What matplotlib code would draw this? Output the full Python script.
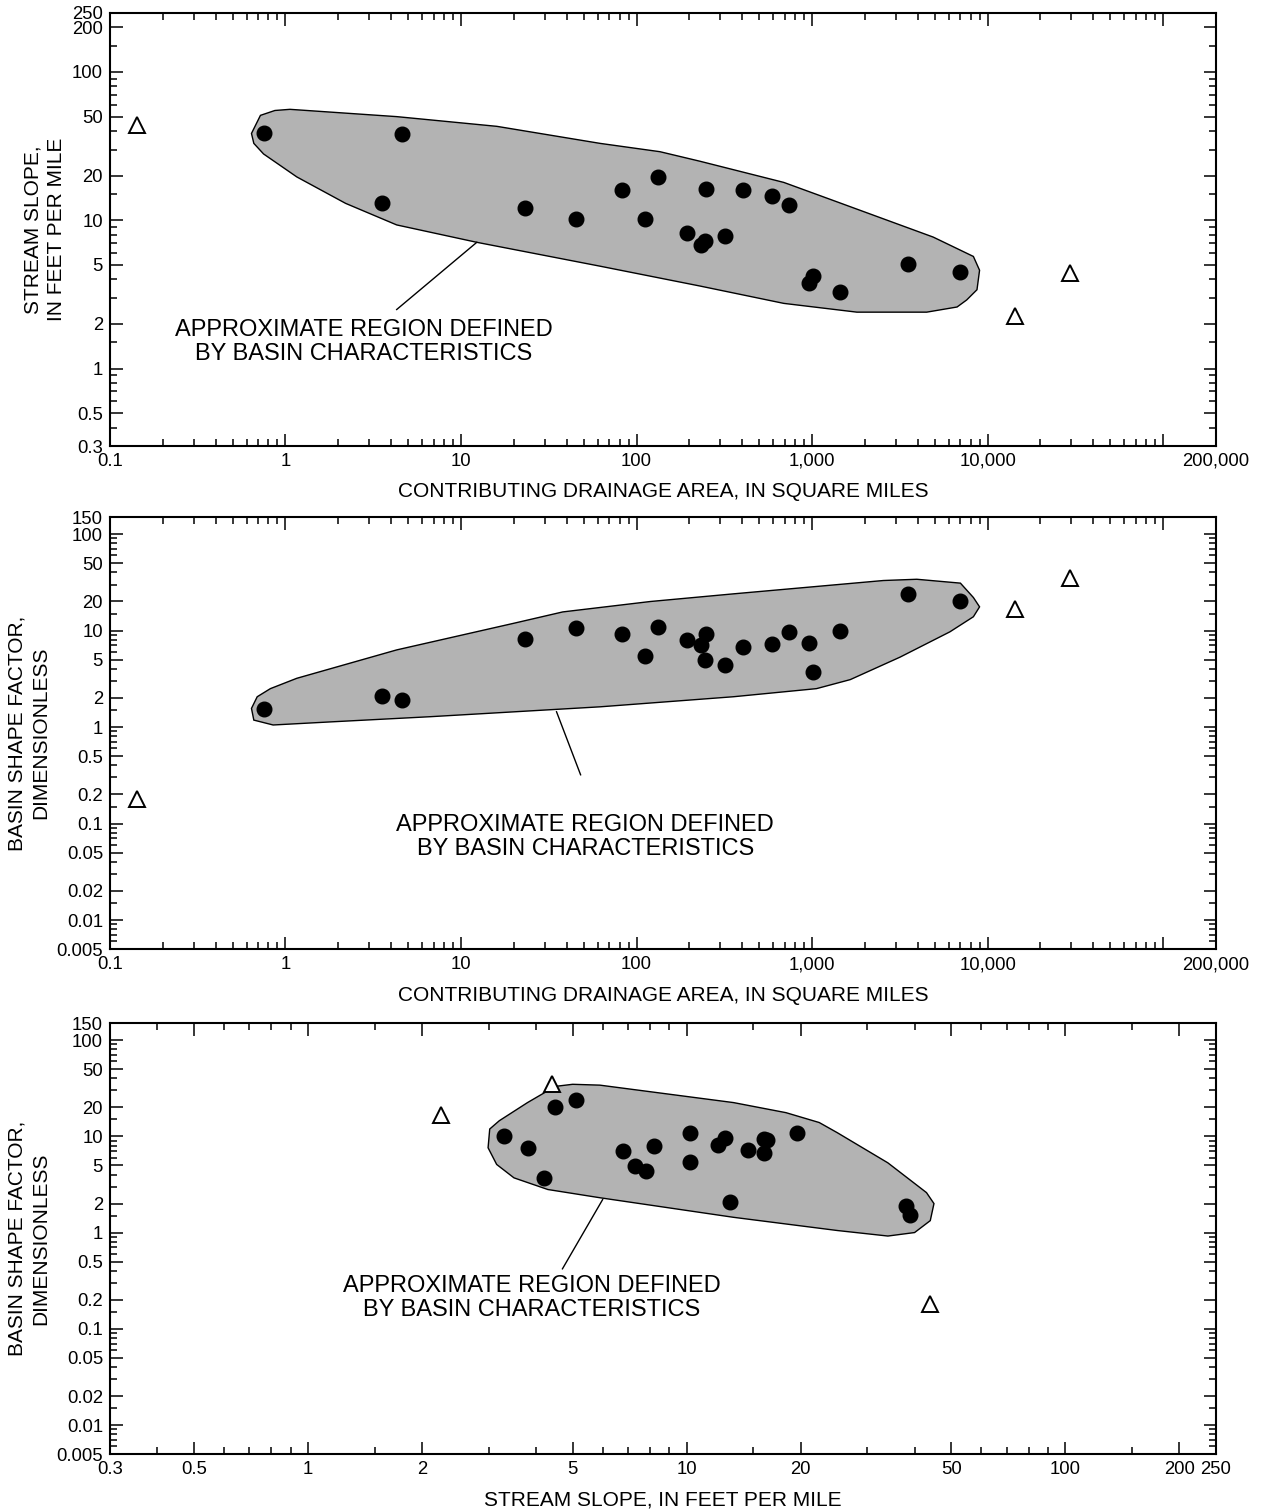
import matplotlib
matplotlib.use('Agg')
import matplotlib.pyplot as plt
from matplotlib.ticker import FixedLocator, FixedFormatter, NullFormatter

plt.rcParams['font.family'] = ['Liberation Sans', 'DejaVu Sans']

# gaged sites inside the region of basin characteristics
area = [0.757, 3.55, 4.63, 23, 45, 83, 112, 133, 195, 248, 232, 245, 321,
        403, 594, 736, 960, 1015, 1450, 3520, 7000]
slope = [39, 13.0, 38, 12.1, 10.2, 16.0, 10.2, 19.6, 8.2, 16.3, 6.8, 7.3, 7.8,
         16.0, 14.5, 12.6, 3.8, 4.2, 3.3, 5.1, 4.5]
shape = [1.53, 2.1, 1.9, 8.2, 10.7, 9.3, 5.4, 10.8, 8.0, 9.1, 7.0, 4.9, 4.4,
         6.7, 7.2, 9.6, 7.5, 3.7, 10.0, 24, 20]

# sites outside the region
out_area = [0.142, 14350, 29500]
out_slope = [44, 2.25, 4.4]
out_shape = [0.18, 16.7, 35]

# approximate region outlines
reg1_x = [0.64, 0.72, 0.87, 1.06, 4.3, 16, 62, 136, 230, 690, 1320, 4900, 8300,
          9000, 8700, 7600, 6700, 4500, 1800, 690, 230, 62, 12.3, 4.3, 2.2,
          1.16, 0.75, 0.66]
reg1_y = [38.5, 51, 55, 56, 50, 43, 33, 29, 25, 18, 13.6, 7.7, 5.7,
          4.6, 3.4, 2.9, 2.6, 2.4, 2.4, 2.75, 3.6, 4.9, 7.1, 9.3, 13,
          19.6, 28, 33]
reg2_x = [0.64, 0.69, 0.82, 1.16, 4.3, 20, 38, 120, 356, 2550, 3950, 7000,
          8300, 9000, 8300, 6100, 3170, 1650, 1060, 356, 62, 6.7, 1.8, 0.85,
          0.66]
reg2_y = [1.56, 2.06, 2.5, 3.2, 6.3, 11.9, 15.6, 20, 24, 33, 34, 31,
          22, 17.6, 13.9, 9.7, 5.3, 3.1, 2.5, 2.06, 1.62, 1.28, 1.13, 1.05,
          1.18]
reg3_x = [3.02, 2.99, 3.15, 3.5, 4.3, 5.9, 13.3, 25, 34, 40, 44, 45, 43, 34,
          25, 22.4, 18.3, 13.3, 5.9, 5.0, 4.5, 3.8, 3.2]
reg3_y = [11.9, 7.6, 5.1, 3.7, 2.8, 2.3, 1.44, 1.05, 0.92, 1.0, 1.33, 2.0,
          2.6, 5.3, 10.9, 13.9, 17.6, 22.4, 34, 34.7, 33, 22.4, 14.5]

area_ticks = [0.1, 1, 10, 100, 1000, 10000, 100000, 200000]
area_labels = ['0.1', '1', '10', '100', '1,000', '10,000', '', '200,000']
slope_ticks = [0.3, 0.5, 1, 2, 5, 10, 20, 50, 100, 200, 250]
slope_labels = ['0.3', '0.5', '1', '2', '5', '10', '20', '50', '100', '200', '250']
shape_ticks = [0.005, 0.01, 0.02, 0.05, 0.1, 0.2, 0.5, 1, 2, 5, 10, 20, 50, 100, 150]
shape_labels = ['0.005', '0.01', '0.02', '0.05', '0.1', '0.2', '0.5', '1', '2', '5',
                '10', '20', '50', '100', '150']

note = 'APPROXIMATE REGION DEFINED\nBY BASIN CHARACTERISTICS'
area_label = 'CONTRIBUTING DRAINAGE AREA, IN SQUARE MILES'
slope_label = 'STREAM SLOPE, IN FEET PER MILE'


def minors(lo, hi, mults):
    out = []
    for e in range(-4, 6):
        for m in mults:
            v = m * 10.0 ** e
            if lo < v < hi:
                out.append(v)
    return out


def set_axis(axis, lo, hi, ticks, labels, mults):
    axis.set_major_locator(FixedLocator(ticks))
    axis.set_major_formatter(FixedFormatter(labels))
    axis.set_minor_locator(FixedLocator(minors(lo, hi, mults)))
    axis.set_minor_formatter(NullFormatter())


def style(ax):
    ax.set_xscale('log')
    ax.set_yscale('log')
    for s in ax.spines.values():
        s.set_linewidth(1.5)
    ax.tick_params(which='both', direction='in', top=True, right=True,
                   width=1.1, labelsize=13.3, pad=5, colors='black')
    ax.tick_params(which='major', length=9)
    ax.tick_params(which='minor', length=5)


fig = plt.figure(figsize=(12.64, 15.11), dpi=100)
ax1 = fig.add_axes([0.087, 0.7048, 0.875, 0.2866])
ax2 = fig.add_axes([0.087, 0.3719, 0.875, 0.2859])
ax3 = fig.add_axes([0.087, 0.0377, 0.875, 0.2852])

fill_kw = dict(facecolor='#b3b3b3', edgecolor='black', linewidth=1.0, zorder=1)
dot_kw = dict(linestyle='none', marker='o', markersize=10.5, color='black', zorder=3)
tri_kw = dict(linestyle='none', marker='^', markersize=11, markerfacecolor='white',
              markeredgecolor='black', markeredgewidth=1.4, zorder=3)
txt_kw = dict(ha='center', va='center', fontsize=17, linespacing=1.12)
ylab_kw = dict(fontsize=15, labelpad=4.5, linespacing=1.3)

# panel 1: slope vs area
style(ax1)
ax1.fill(reg1_x, reg1_y, **fill_kw)
ax1.plot([12.3, 4.3], [7.1, 2.5], color='black', lw=1.0, zorder=2)
ax1.plot(area, slope, **dot_kw)
ax1.plot(out_area, out_slope, **tri_kw)
ax1.text(2.8, 1.5, note, **txt_kw)
ax1.set_xlim(0.1, 200000)
ax1.set_ylim(0.3, 250)
set_axis(ax1.xaxis, 0.1, 200000, area_ticks, area_labels, range(2, 10))
set_axis(ax1.yaxis, 0.3, 250, slope_ticks, slope_labels, [1.5, 3, 4, 6, 7, 8, 9])
ax1.set_xlabel(area_label, fontsize=15, labelpad=9)
ax1.set_ylabel('STREAM SLOPE,\nIN FEET PER MILE', **ylab_kw)

# panel 2: shape factor vs area
style(ax2)
ax2.fill(reg2_x, reg2_y, **fill_kw)
ax2.plot([35, 48], [1.44, 0.32], color='black', lw=1.0, zorder=2)
ax2.plot(area, shape, **dot_kw)
ax2.plot(out_area, out_shape, **tri_kw)
ax2.text(51, 0.073, note, **txt_kw)
ax2.set_xlim(0.1, 200000)
ax2.set_ylim(0.005, 150)
set_axis(ax2.xaxis, 0.1, 200000, area_ticks, area_labels, range(2, 10))
set_axis(ax2.yaxis, 0.005, 150, shape_ticks, shape_labels, [1.5, 3, 4, 6, 7, 8, 9])
ax2.set_xlabel(area_label, fontsize=15, labelpad=9)
ax2.set_ylabel('BASIN SHAPE FACTOR,\nDIMENSIONLESS', **ylab_kw)

# panel 3: shape factor vs slope
style(ax3)
ax3.fill(reg3_x, reg3_y, **fill_kw)
ax3.plot([6.0, 4.7], [2.2, 0.42], color='black', lw=1.0, zorder=2)
ax3.plot(slope, shape, **dot_kw)
ax3.plot(out_slope, out_shape, **tri_kw)
ax3.text(3.9, 0.21, note, **txt_kw)
ax3.set_xlim(0.3, 250)
ax3.set_ylim(0.005, 150)
set_axis(ax3.xaxis, 0.3, 250, slope_ticks, slope_labels, [1.5, 3, 4, 6, 7, 8, 9])
set_axis(ax3.yaxis, 0.005, 150, shape_ticks, shape_labels, [1.5, 3, 4, 6, 7, 8, 9])
ax3.set_xlabel(slope_label, fontsize=15, labelpad=9)
ax3.set_ylabel('BASIN SHAPE FACTOR,\nDIMENSIONLESS', **ylab_kw)

fig.savefig('out.png', dpi=100, facecolor='white')
